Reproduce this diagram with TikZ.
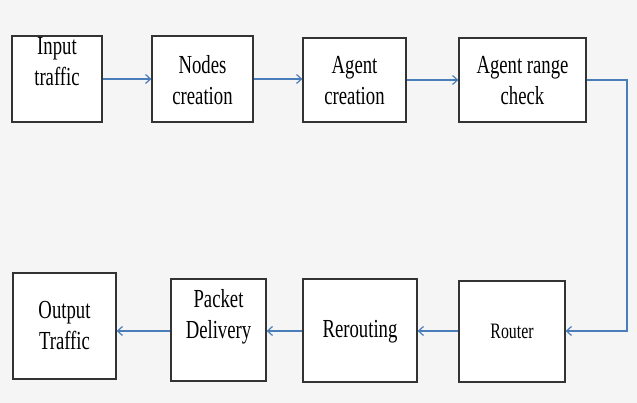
\documentclass[tikz,border=0pt]{standalone}
\usepackage{fontspec}
\setmainfont[FakeStretch=0.72]{Liberation Serif}
\usetikzlibrary{arrows.meta}
\definecolor{bg}{HTML}{F5F5F5}
\definecolor{arr}{HTML}{4A7EBB}
\definecolor{bd}{HTML}{333333}
\begin{document}
\begin{tikzpicture}[x=1pt,y=-1pt,
  box/.style={draw=bd,fill=white,line width=1.2pt,inner sep=0pt},
  txt/.style={font=\fontsize{26}{31}\selectfont,align=center,inner sep=0pt,text=black},
  flow/.style={draw=arr,line width=1.3pt,-{Straight Barb[length=5pt,width=9pt,line width=1.2pt]}}]
\fill[bg] (0,0) rectangle (637,403);
\useasboundingbox (0,0) rectangle (637,403);
% boxes
\node[box,minimum width=90pt,minimum height=86pt] (b1) at (57,79) {};
\node[box,minimum width=101pt,minimum height=86pt] (b2) at (202.5,79) {};
\node[box,minimum width=103pt,minimum height=84pt] (b3) at (354.5,80) {};
\node[box,minimum width=127pt,minimum height=84pt] (b4) at (522.5,80) {};
\node[box,minimum width=106pt,minimum height=101pt] (b5) at (512,331.5) {};
\node[box,minimum width=114pt,minimum height=103pt] (b6) at (360,330.5) {};
\node[box,minimum width=95pt,minimum height=102pt] (b7) at (218.5,330) {};
\node[box,minimum width=103pt,minimum height=106pt] (b8) at (64.5,326) {};
% texts
\node[txt] (t1) at (57,62) {Input\\traffic};
\node[txt] (t2) at (202.5,80) {Nodes\\creation};
\node[txt] (t3) at (354.5,81) {Agent\\creation};
\node[txt] (t4) at (522.5,81) {Agent range\\check};
\node[txt,font=\fontsize{22}{26}\selectfont] (t5) at (512,331) {Router};
\node[txt] (t6) at (360,332) {Rerouting};
\node[txt] (t7) at (218.5,317) {Packet\\Delivery};
\node[txt] (t8) at (64.5,326) {Output\\Traffic};
% connectors
\coordinate (c1) at (627,80);
\coordinate (c2) at (627,331);
\draw[flow] (b1.east) -- (b1.east -| b2.west);
\draw[flow] (b2.east) -- (b2.east -| b3.west);
\draw[flow] (b3.east) -- (b3.east -| b4.west);
\draw[flow] (b4.east) -- (c1) -- (c2) -- (c2 -| b5.east);
\draw[flow] (b5.west |- c2) -- (b6.east |- c2);
\draw[flow] (b6.west |- c2) -- (b7.east |- c2);
\draw[flow] (b7.west |- c2) -- (b8.east |- c2);
\end{tikzpicture}
\end{document}
